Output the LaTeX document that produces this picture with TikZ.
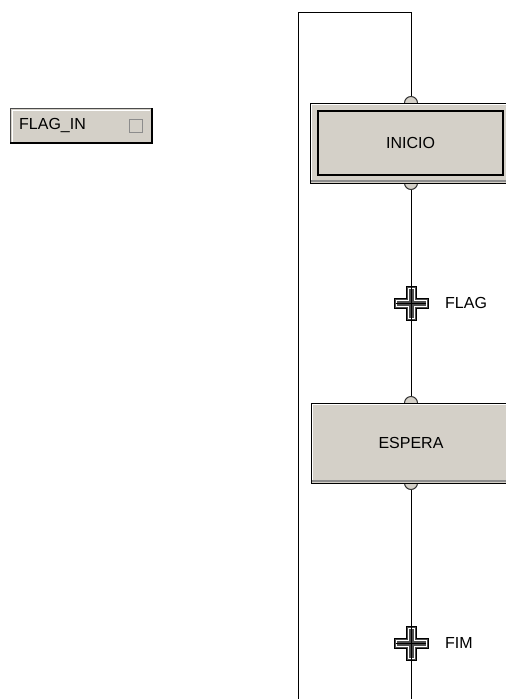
\documentclass[tikz,border=0pt]{standalone}
\usepackage{fontspec}
\setmainfont{Liberation Sans}
\definecolor{panel}{HTML}{D4D0C8}

\begin{document}
\begin{tikzpicture}[x=1pt,y=-1pt,
    font=\fontsize{16}{19}\selectfont,
    stepbox/.style={draw=black,fill=panel,line width=1pt,minimum width=200pt,minimum height=80pt,inner sep=0pt},
    link/.style={line width=1pt},
    bump/.style={draw=black!80,fill=panel,line width=1pt},
    trans/.style={draw=black,fill=black!70,line width=1pt}]

      \useasboundingbox (0,0) rectangle (506,699);
      \clip (0,0) rectangle (506,699);

      \coordinate (c1) at (298,12);
      \coordinate (c2) at (411,12);
      \coordinate (c3) at (298,699);
      \coordinate (c4) at (411,699);
      \coordinate (t1) at (411,303);
      \coordinate (t2) at (411,643);

      % loop and links
      \draw[link] (c3) -- (c1) -- (c2) -- (411,103);
      \draw[link] (411,183) -- (411,403);
      \draw[link] (411,483) -- (c4);

      % bumps
      \draw[bump] (404.5,103) arc[start angle=180,end angle=0,radius=6.5pt];
      \draw[bump] (404.5,183) arc[start angle=180,end angle=360,radius=6.5pt];
      \draw[bump] (404.5,403) arc[start angle=180,end angle=0,radius=6.5pt];
      \draw[bump] (404.5,483) arc[start angle=180,end angle=360,radius=6.5pt];

      % steps
      \node[stepbox,minimum width=201pt] (inicio0) at (410.5,143) {};
      \draw[white,line width=1pt] (311,182) -- (311,104) -- (510,104);
      \draw[black!45,line width=2pt] (311,180.5) -- (510,180.5);
      \node[stepbox,minimum width=185pt,minimum height=64pt,line width=1.5pt] (inicio) at (410.5,143) {INICIO};
      \node[stepbox] (espera) at (411,443) {ESPERA};
      \draw[white,line width=1pt] (312,482) -- (312,404) -- (510,404);
      \draw[black!45,line width=2pt] (312,480.5) -- (510,480.5);

      % transitions
      \foreach \t in {t1,t2} {
        \begin{scope}[shift={(\t)}]
          \draw[trans] (-17,-5) -- (-5,-5) -- (-5,-17) -- (5,-17) -- (5,-5) -- (17,-5)
            -- (17,5) -- (5,5) -- (5,17) -- (-5,17) -- (-5,5) -- (-17,5) -- cycle;
          \draw[white,line width=0.8pt] (-15,-3) -- (-3,-3) -- (-3,-15) -- (3,-15) -- (3,-3) -- (15,-3)
            -- (15,3) -- (3,3) -- (3,15) -- (-3,15) -- (-3,3) -- (-15,3) -- cycle;
          \draw[black,line width=0.8pt] (0,-17) -- (0,17);
          \draw[black,line width=0.8pt] (-15,0) -- (15,0);
        \end{scope}
      }
      \node[anchor=west,inner sep=0pt] (flag) at (445,303) {FLAG};
      \node[anchor=west,inner sep=0pt] (fim) at (445,643) {FIM};

      % input
      \node[draw=black!70,fill=panel,line width=1pt,minimum width=142pt,minimum height=35pt,anchor=north west] (flagin) at (10,108) {};
      \draw[white,line width=1pt] (12,142) -- (12,110) -- (150,110);
      \draw[black,line width=2pt] (10,143) -- (152,143) -- (152,108);
      \node[anchor=west,inner sep=0pt] (flagtxt) at (19,125.5) {FLAG\_IN};
      \node[draw=black!45,line width=1.5pt,minimum size=13pt,inner sep=0pt] (flagbit) at (136,126) {};
    \end{tikzpicture}
\end{document}
